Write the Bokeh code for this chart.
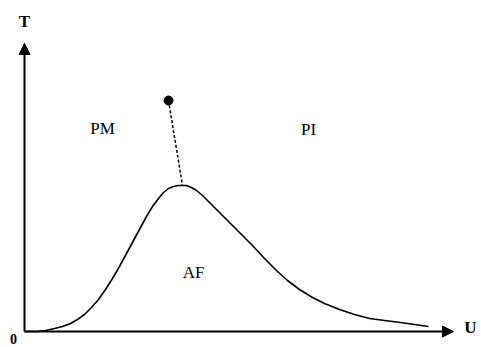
from bokeh.plotting import figure
from bokeh.models import Range1d, Arrow, NormalHead
from bokeh.core.properties import value
from bokeh.embed import file_html
from bokeh.resources import INLINE

# Phase boundary T_N(U) (arbitrary units)
curve_u = [0, 12, 21, 30, 38, 46, 53, 60, 67, 74, 81, 88, 95, 102, 109, 116, 122, 128, 134, 139,
           144, 149, 154, 158, 162, 167, 172, 178, 185, 193, 203, 216, 228, 240, 252, 263, 275,
           288, 300, 315, 330, 345, 360, 376, 390, 404]
curve_t = [0, 0, 1, 3, 5, 8, 12, 17, 24, 32, 42, 53, 65, 78, 91, 104, 115, 125, 133, 139,
           143, 145, 146, 146, 146, 144, 141, 136, 129, 121, 111, 98, 86, 73, 61, 51, 42,
           34, 28, 22, 17, 13, 11, 9, 7, 5]

# Mott crossover line: from critical point to Neel peak
crit_u = [144]
crit_t = [231]
dash_u = [144, 158]
dash_t = [231, 146]

# Region labels
labels = ["PM", "PI", "AF"]
label_u = [78, 284, 169]
label_t = [203, 202, 59]

# Axis extents / labels
u_max = 429
t_max = 288
axis_names = ["T", "U", "0"]

p = figure(width=481, height=347, output_backend="svg", toolbar_location=None,
           x_range=Range1d(-24, 457), y_range=Range1d(-16, 331),
           min_border=0, min_border_left=0, min_border_right=0,
           min_border_top=0, min_border_bottom=0)
p.axis.visible = False
p.grid.visible = False
p.outline_line_color = None
p.background_fill_color = "white"
p.border_fill_color = "white"

p.line(curve_u, curve_t, line_color="black", line_width=1.6, line_join="round")
p.line(dash_u, dash_t, line_color="black", line_width=1.5, line_dash="3 2")
p.scatter(crit_u, crit_t, size=9, color="black")

p.add_layout(Arrow(end=NormalHead(size=11, fill_color="black", line_color="black"),
                   x_start=0, y_start=0, x_end=0, y_end=t_max,
                   line_color="black", line_width=2))
p.add_layout(Arrow(end=NormalHead(size=11, fill_color="black", line_color="black"),
                   x_start=0, y_start=0, x_end=u_max, y_end=0,
                   line_color="black", line_width=2))

font = value("Liberation Serif")
p.text(label_u, label_t, text=labels, text_font=font, text_font_size="17px",
       text_align="center", text_baseline="middle", text_color="black")
p.text([0, 446], [310, 4], text=axis_names[:2], text_font=font, text_font_size="17px",
       text_font_style="bold", text_align="center", text_baseline="middle", text_color="black")
p.text([-11], [-12], text=axis_names[2:], text_font=font, text_font_size="14px",
       text_font_style="bold", text_align="center", text_baseline="bottom", text_color="black")

open("out.html", "w").write(file_html(p, INLINE))
